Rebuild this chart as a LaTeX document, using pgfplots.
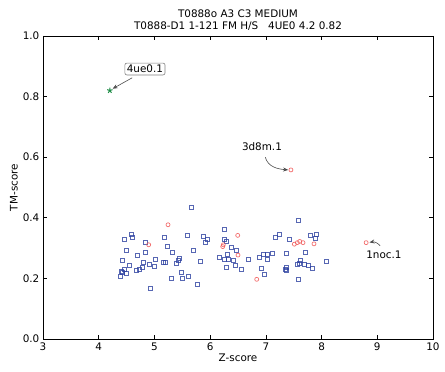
\documentclass[border=0pt]{standalone}
\usepackage{pgfplots}
\pgfplotsset{compat=1.18}
\usepackage{fontspec}
\setmainfont{DejaVu Sans}
\usetikzlibrary{arrows.meta}
\definecolor{sqblue}{RGB}{45,65,160}
\definecolor{cred}{RGB}{240,85,85}
\definecolor{sgreen}{RGB}{30,140,70}
\begin{document}
\fontsize{10.4}{12.5}\selectfont
\begin{tikzpicture}
\begin{axis}[
  scale only axis, width=390pt, height=303pt,
  xmin=3, xmax=10, ymin=0, ymax=1,
  xtick={3,4,5,6,7,8,9,10}, ytick={0,0.2,0.4,0.6,0.8,1.0},
  yticklabel style={/pgf/number format/.cd, fixed, fixed zerofill, precision=1},
  /pgf/number format/assume math mode=true,
  tick align=inside, major tick length=4pt,
  tick style={black, line width=0.6pt},
  axis line style={black, line width=0.8pt},
  xlabel={Z-score}, ylabel={TM-score},
  xlabel style={yshift=4pt}, ylabel style={yshift=-2pt},
  title={T0888o A3 C3 MEDIUM\\T0888-D1 1-121 FM H/S \ \ 4UE0 4.2 0.82},
  title style={align=center, yshift=-4pt, font=\fontsize{10.4}{11.5}\selectfont},
  clip=false,
]
\addplot[only marks, mark=square, mark size=2pt, draw=sqblue, line width=0.7pt, opacity=0.8] coordinates {
(4.580,0.346) (4.610,0.336) (4.459,0.330) (4.502,0.294) (4.693,0.277)
(4.418,0.258) (4.556,0.242) (4.467,0.230) (4.400,0.224) (4.669,0.225)
(4.729,0.231) (4.495,0.218) (4.395,0.206) (4.423,0.219) (5.669,0.436)
(5.177,0.334) (5.597,0.341) (5.872,0.339) (5.956,0.330) (5.908,0.318)
(4.843,0.319) (5.231,0.305) (5.698,0.294) (5.328,0.286) (4.843,0.285)
(5.447,0.267) (5.436,0.260) (5.016,0.263) (5.824,0.256) (5.190,0.254)
(5.154,0.253) (4.795,0.253) (4.908,0.248) (5.393,0.251) (5.005,0.240)
(4.782,0.237) (5.482,0.221) (5.608,0.208) (5.495,0.201) (5.298,0.199)
(5.770,0.182) (4.926,0.167) (6.254,0.361) (6.262,0.330) (6.290,0.322)
(6.387,0.303) (6.464,0.294) (6.315,0.280) (6.159,0.270) (6.254,0.263)
(6.333,0.263) (6.411,0.260) (6.685,0.262) (6.446,0.242) (6.290,0.235)
(6.560,0.230) (6.883,0.268) (6.962,0.281) (7.026,0.280) (7.021,0.264)
(7.116,0.282) (7.362,0.283) (7.164,0.334) (7.242,0.346) (7.421,0.329)
(6.913,0.233) (7.344,0.230) (7.374,0.235) (6.967,0.212) (7.583,0.390)
(7.798,0.342) (7.913,0.346) (7.888,0.332) (7.708,0.286) (8.085,0.255)
(7.613,0.258) (7.595,0.251) (7.565,0.247) (7.690,0.248) (7.762,0.242)
(7.841,0.233) (7.374,0.228) (7.577,0.197)
};
\addplot[only marks, mark=o, mark size=2pt, draw=cred, line width=0.7pt, opacity=0.85] coordinates {
(5.244,0.377) (4.897,0.311) (6.495,0.342) (6.236,0.311) (6.226,0.305)
(6.500,0.277) (6.836,0.197) (7.511,0.313) (7.565,0.318) (7.608,0.322)
(7.667,0.318) (7.864,0.314) (7.45,0.558) (8.80,0.318)
};
\addplot[only marks, mark=star, mark size=2.8pt, draw=sgreen, fill=sgreen, line width=1pt] coordinates {(4.2,0.82)};
\node[draw=gray, rounded corners=2pt, fill=white, inner sep=2pt, line width=0.6pt] at (axis cs:4.83,0.891) {4ue0.1};
\draw[-{Stealth[length=5pt,width=4pt]}, black!70, line width=0.6pt] (axis cs:4.60,0.862) -- (axis cs:4.25,0.826);
\node at (axis cs:6.93,0.634) {3d8m.1};
\draw[-{Stealth[length=5pt,width=4pt]}, black!70, line width=0.6pt] (axis cs:6.99,0.600) to[out=-75,in=175] (axis cs:7.40,0.558);
\node at (axis cs:9.12,0.277) {1noc.1};
\draw[-{Stealth[length=5pt,width=4pt]}, black!70, line width=0.6pt] (axis cs:9.05,0.308) to[out=130,in=10] (axis cs:8.86,0.319);
\end{axis}
\path (current axis.south west) ++(-43pt,-32pt) coordinate (bl);
\path (current axis.north east) ++(12pt,36pt) coordinate (tr);
\path (bl) rectangle (tr);
\end{tikzpicture}
\end{document}
